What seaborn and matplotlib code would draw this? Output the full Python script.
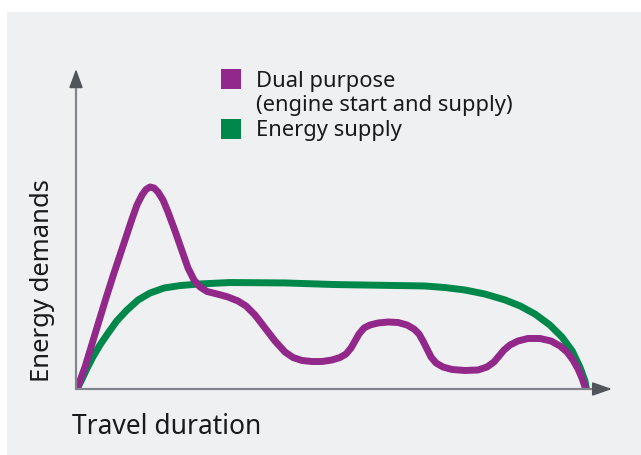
import matplotlib
matplotlib.use("Agg")
import matplotlib.pyplot as plt
from matplotlib.patches import Rectangle
import seaborn as sns

# curves (travel time 0..100, demand relative to peak = 100)
dual_x = [0.0, 1.57, 2.94, 4.31, 5.69, 7.06, 8.43, 9.61, 10.78, 11.76, 12.75, 13.53,
          14.31, 15.10, 15.88, 16.86, 17.84, 19.22, 20.59, 21.76, 22.94, 24.12, 25.49,
          27.45, 29.61, 31.57, 33.14, 34.90, 36.86, 38.82, 40.78, 42.35, 44.12, 46.08,
          48.04, 50.00, 51.57, 52.75, 53.73, 54.51, 55.29, 56.27, 57.45, 59.02, 60.98,
          62.94, 64.71, 66.08, 67.06, 67.84, 68.63, 69.41, 70.39, 71.76, 73.53, 76.08,
          78.63, 80.39, 81.76, 82.75, 83.73, 84.90, 86.47, 88.43, 90.78, 92.94, 94.71,
          96.08, 97.25, 98.24, 99.02, 99.61, 99.80]
dual_y = [0.0, 10.89, 22.28, 33.66, 45.05, 55.94, 66.34, 75.25, 84.16, 91.09, 96.04, 98.76,
          100.0, 99.50, 97.52, 93.56, 87.62, 78.22, 68.32, 59.90, 53.96, 50.50, 48.27,
          47.03, 45.54, 43.56, 41.09, 36.63, 30.20, 23.76, 18.32, 15.59, 14.11, 13.61,
          13.61, 14.36, 15.59, 17.33, 20.30, 23.76, 27.23, 30.20, 31.68, 32.67, 33.17,
          32.92, 31.68, 29.70, 27.23, 23.76, 19.80, 15.84, 12.87, 10.89, 9.65, 9.16,
          9.41, 10.89, 13.37, 16.34, 19.31, 21.78, 23.76, 25.00, 25.00, 23.76, 21.29,
          18.32, 14.36, 9.90, 5.45, 0.99, -1.49]

supply_x = [0.0, 1.0, 2.0, 3.1, 4.5, 6.1, 7.8, 9.8, 12.0, 14.3, 17.1, 20.2, 24.1, 30.0,
            40.8, 50.6, 63.3, 68.2, 72.2, 76.1, 80.0, 83.9, 86.9, 89.8, 92.7, 95.1,
            97.1, 98.6, 99.6, 100.0]
supply_y = [0.0, 5.0, 10.4, 15.8, 21.8, 27.7, 33.7, 39.1, 44.1, 47.5, 50.0, 51.2, 52.0, 52.7,
            52.5, 51.7, 51.2, 51.0, 50.2, 49.0, 47.0, 44.1, 41.1, 37.1, 31.7, 25.7,
            18.8, 10.9, 4.0, -1.5]

legend_lines = ["Dual purpose", "(engine start and supply)", "Energy supply"]
x_label = "Travel duration"
y_label = "Energy demands"

PURPLE = "#91288A"
GREEN = "#00884A"
BG = "#EFF0F2"
AXIS = "#80868B"
HEAD = "#50555C"
TEXT = "#1A1A1A"

sns.set_theme(style="white")
plt.rcParams["font.family"] = ["Noto Sans", "DejaVu Sans"]

W, H = 641, 456
fig = plt.figure(figsize=(W / 100, H / 100), dpi=100)
fig.patch.set_facecolor("white")
fig.patches.append(Rectangle((7 / W, 0), 1, 1 - 13 / H, transform=fig.transFigure,
                             facecolor=BG, edgecolor="none", zorder=-10))

ax = fig.add_axes([76 / W, 1 - 390 / H, (612 - 76) / W, (390 - 70) / H])
ax.set_facecolor("none")

sns.lineplot(x=supply_x, y=supply_y, sort=False, estimator=None, ax=ax,
             color=GREEN, linewidth=5.0, solid_joinstyle="round", solid_capstyle="butt")
sns.lineplot(x=dual_x, y=dual_y, sort=False, estimator=None, ax=ax,
             color=PURPLE, linewidth=5.0, solid_joinstyle="round", solid_capstyle="butt")

ax.set_xlim(-0.2, 104.9)
ax.set_ylim(0, 158.4)
ax.set_xticks([])
ax.set_yticks([])
for s in ax.spines.values():
    s.set_visible(False)

# axis arrows
ax.plot([0, 0], [0, 0.96], transform=ax.transAxes, color=AXIS, lw=1.6, clip_on=False)
ax.plot([0, 0.97], [0, 0], transform=ax.transAxes, color=AXIS, lw=1.6, clip_on=False)
ax.annotate("", xy=(0, 1), xytext=(0, 0.955), xycoords="axes fraction",
            arrowprops=dict(arrowstyle="-|>,head_length=1.15,head_width=0.42",
                            mutation_scale=10, color=HEAD, lw=1.2, shrinkA=0, shrinkB=0))
ax.annotate("", xy=(1, 0), xytext=(0.97, 0), xycoords="axes fraction",
            arrowprops=dict(arrowstyle="-|>,head_length=1.2,head_width=0.42",
                            mutation_scale=10, color=HEAD, lw=1.2, shrinkA=0, shrinkB=0))

# legend drawn by hand so the purple square sits on the first of two lines
for top, col in [(70, PURPLE), (120, GREEN)]:
    fig.patches.append(Rectangle((221 / W, 1 - (top + 19.5) / H), 20 / W, 19.5 / H,
                                 transform=fig.transFigure, facecolor=col, edgecolor="none"))
for base, txt in zip([87, 111, 136], legend_lines):
    fig.text(256 / W, 1 - base / H, txt, fontsize=15.8, color=TEXT, va="baseline", ha="left")

fig.text(72 / W, 1 - 434 / H, x_label, fontsize=19, color=TEXT, va="baseline", ha="left")
fig.text(43 / W, 1 - 281 / H, y_label, fontsize=18.5, color=TEXT, va="center",
         ha="center", rotation=90)

fig.savefig("out.png", dpi=100)
